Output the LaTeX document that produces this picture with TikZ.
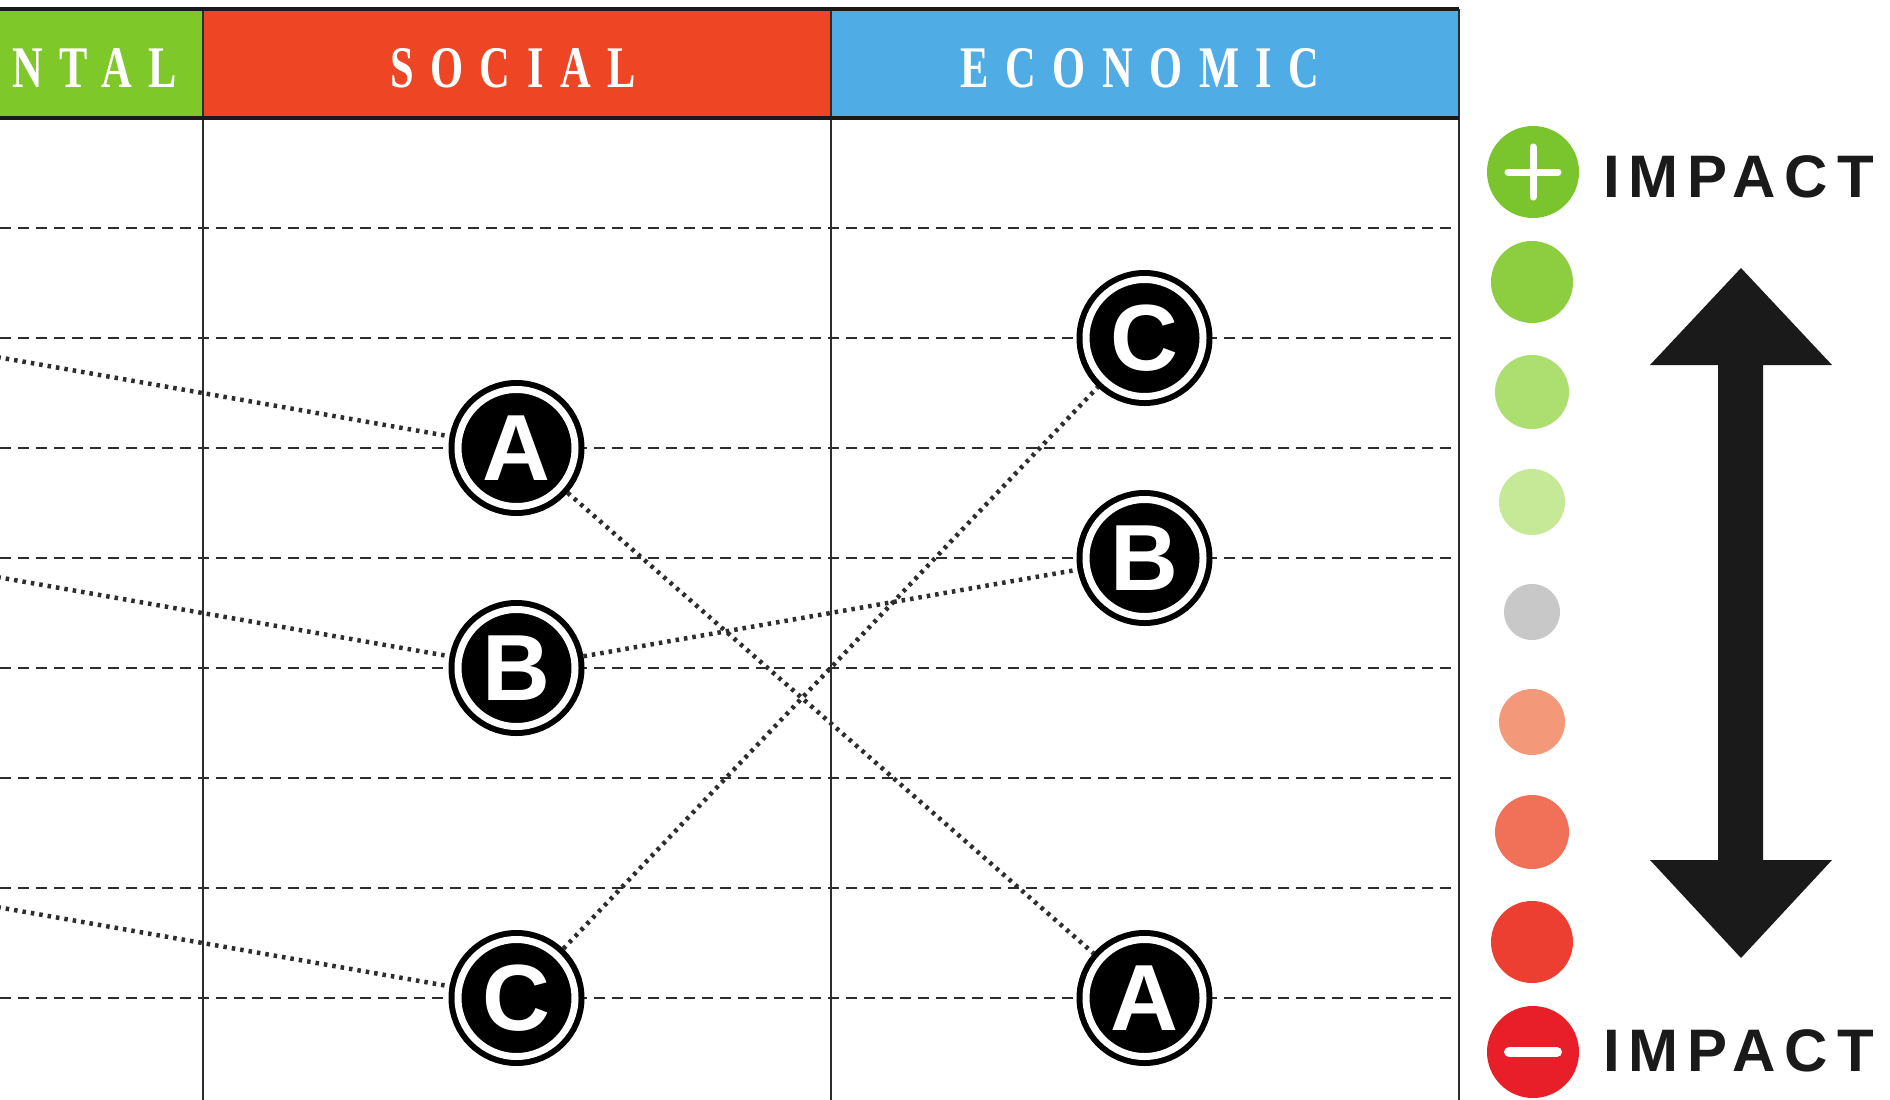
\documentclass[tikz,border=0pt]{standalone}
\usepackage{fontspec}
\setmainfont{Liberation Sans}
\newfontfamily\headfont{Liberation Serif}[FakeStretch=0.72,LetterSpace=28]
\newfontfamily\impactfont{Liberation Sans}[LetterSpace=15]
\usepackage{xcolor}
\usepackage{tikz}
\usetikzlibrary{arrows, arrows.meta}
\usetikzlibrary{calc}
\pgfdeclarelayer{bg}
\pgfsetlayers{bg,main}

\definecolor{envgreen}{RGB}{126,200,42}
\definecolor{socred}{RGB}{238,70,36}
\definecolor{ecoblue}{RGB}{80,172,228}
\definecolor{gridgray}{RGB}{45,45,45}
\definecolor{linkgray}{RGB}{45,45,45}
\definecolor{impactblack}{RGB}{26,26,26}
\definecolor{pluscol}{RGB}{122,196,45}
\definecolor{minuscol}{RGB}{232,30,40}
\definecolor{dotcolA}{RGB}{140,206,64}
\definecolor{dotcolB}{RGB}{172,222,112}
\definecolor{dotcolC}{RGB}{198,233,152}
\definecolor{dotcolD}{RGB}{200,200,200}
\definecolor{dotcolE}{RGB}{244,152,122}
\definecolor{dotcolF}{RGB}{240,112,88}
\definecolor{dotcolG}{RGB}{237,62,50}

\begin{document}
\begin{tikzpicture}[x=1pt, y=-1pt,
	ratingnode/.style={circle, fill=black, draw=black, line width=6pt, double=white, double distance=7pt,
		minimum size=117pt, inner sep=0pt, outer sep=9.5pt, text=white, font=\fontsize{94}{94}\bfseries\selectfont},
	rowline/.style={draw=gridgray, line width=1.6pt, dash pattern=on 11pt off 7pt},
	colline/.style={draw=gridgray, line width=2pt},
	link/.style={draw=linkgray, line width=4.5pt, dash pattern=on 3.5pt off 5pt},
	headtext/.style={text=white, inner sep=0pt, font=\headfont\fontsize{59}{59}\bfseries\selectfont},
	impacttext/.style={anchor=west, inner sep=0pt, text=impactblack, font=\impactfont\fontsize{60}{60}\bfseries\selectfont},
	legenddot/.style={circle, inner sep=0pt, minimum size=#1}]
	\useasboundingbox (0,0) rectangle (1890,1100);
	\clip (0,0) rectangle (1890,1100);

	% ratings per column
	\node[ratingnode](socA) at (516.5,448){A};
	\node[ratingnode](socB) at (516.5,668){B};
	\node[ratingnode](socC) at (516.5,998){C};
	\node[ratingnode](ecoC) at (1144.5,338){C};
	\node[ratingnode](ecoB) at (1144.5,558){B};
	\node[ratingnode](ecoA) at (1144.5,998){A};
	\coordinate (envA) at (-111.5,338);
	\coordinate (envB) at (-111.5,558);
	\coordinate (envC) at (-111.5,888);

	\begin{pgfonlayer}{bg}
		\clip (0,0) rectangle (1890,1100);
		\fill[white] (0,0) rectangle (1890,1100);
		\foreach \iRow[evaluate=\iRow as \yRow using {118+110*\iRow}] in {1,...,8}
		{
			\draw[rowline] (0,\yRow) -- (1458.5,\yRow);
		}
		\foreach \xCol in {202.5, 830.5, 1458.5}
		{
			\draw[colline] (\xCol,9) -- (\xCol,1100);
		}
	\end{pgfonlayer}

	\draw[link] (envA) -- (socA);
	\draw[link] (envB) -- (socB);
	\draw[link] (envC) -- (socC);
	\draw[link] (socA) -- (ecoA);
	\draw[link] (socB) -- (ecoB);
	\draw[link] (socC) -- (ecoC);

	% header bar
	\fill[envgreen] (0,9) rectangle (202.5,118);
	\fill[socred] (202.5,9) rectangle (830.5,118);
	\fill[ecoblue] (830.5,9) rectangle (1458.5,118);
	\draw[colline] (202.5,9) -- (202.5,118) (830.5,9) -- (830.5,118) (1458.5,9) -- (1458.5,118);
	\draw[line width=3.5pt, impactblack] (0,9) -- (1458.5,9) (0,118) -- (1458.5,118);
	\node[headtext, anchor=east](hdrEnv) at (177,68){NTAL};
	\node[headtext](hdrSoc) at (513,68){SOCIAL};
	\node[headtext](hdrEco) at (1140,68){ECONOMIC};

	% legend
	\node[legenddot=92pt, fill=pluscol](plusSign) at (1533,172){};
	\draw[white, line width=7pt, line cap=round] (plusSign.center) ++(-25,0) -- ++(50,0)
		(plusSign.center) ++(0,-25) -- ++(0,50);
	\node[impacttext](plusLabel) at (1603,176.5){IMPACT};
	\foreach \iDot/\rDot/\cDot in {1/82/dotcolA, 2/74/dotcolB, 3/66/dotcolC, 4/56/dotcolD, 5/66/dotcolE, 6/74/dotcolF, 7/82/dotcolG}
	{
		\node[legenddot=\rDot pt, fill=\cDot](dot\iDot) at (1532,{172+110*\iDot}){};
	}
	\node[legenddot=92pt, fill=minuscol](minusSign) at (1533,1052){};
	\draw[white, line width=10pt, line cap=round] (minusSign.center) ++(-24,0) -- ++(48,0);
	\node[impacttext](minusLabel) at (1603,1050.5){IMPACT};

	\fill[impactblack] (1741,268) -- (1832,365) -- (1763,365) -- (1763,860) -- (1832,860) -- (1741,958)
		-- (1650,860) -- (1718,860) -- (1718,365) -- (1650,365) -- cycle;
\end{tikzpicture}
\end{document}
